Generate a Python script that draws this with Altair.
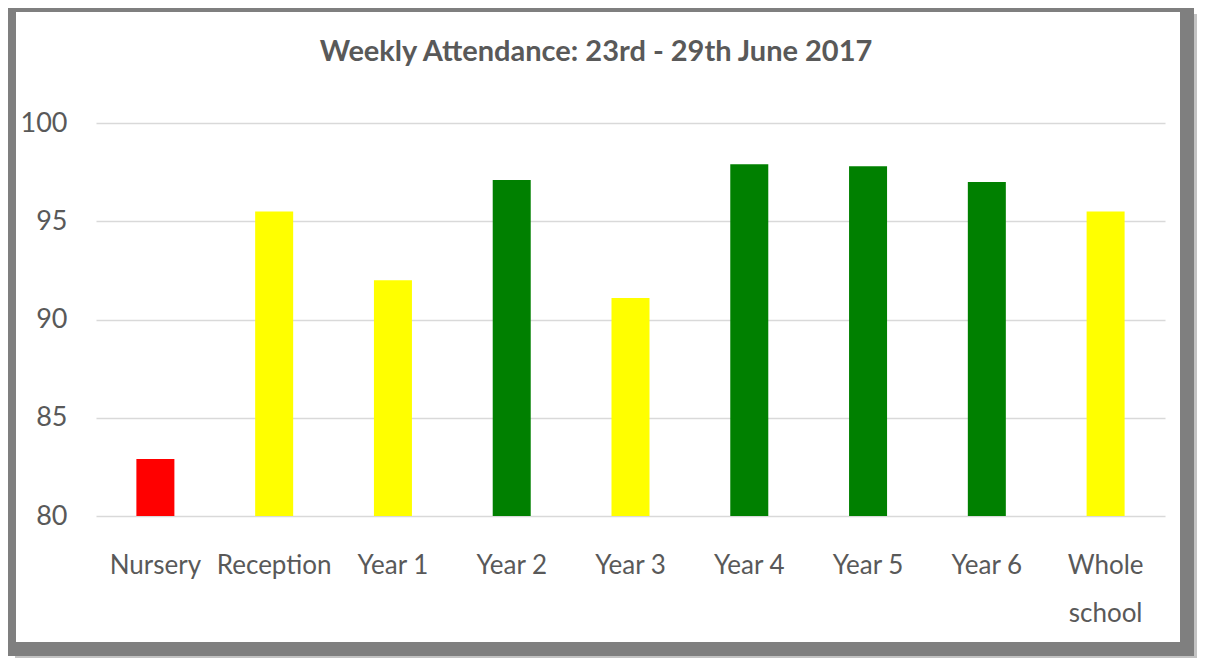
import altair as alt
import pandas as pd

# ---- data ----
categories = ["Nursery", "Reception", "Year 1", "Year 2", "Year 3",
              "Year 4", "Year 5", "Year 6", "Whole school"]
attendance = [82.9, 95.5, 92.0, 97.1, 91.1, 97.9, 97.8, 97.0, 95.5]
bar_colors = ["#ff0000", "#ffff00", "#ffff00", "#008000", "#ffff00",
              "#008000", "#008000", "#008000", "#ffff00"]
y_ticks = [80, 85, 90, 95, 100]
title_text = "Weekly Attendance: 23rd - 29th June 2017"

df = pd.DataFrame({"group": categories, "attendance": attendance, "color": bar_colors})

FONT = "Lato"
TXT = "#595959"

# plot area origin in page coordinates (canvas starts at page 8,8)
OX, OY = 96, 123
W, H = 1069, 393


def strip(x1, x2, y1, y2, color):
    # decorative frame piece, given in page pixels
    return alt.Chart(pd.DataFrame({"k": [0]})).mark_rect(color=color).encode(
        x=alt.value(x1 - OX), x2=alt.value(x2 - OX),
        y=alt.value(y1 - OY), y2=alt.value(y2 - OY))


DARK = "#7f7f7f"
LIGHT = "#c3c3c3"
frame = [
    strip(1194, 1205, 14, 666, LIGHT),    # shadow right
    strip(15, 1205, 656, 666, LIGHT),     # shadow bottom
    strip(0, 1194, 0, 12, DARK),          # top
    strip(0, 16, 0, 656, DARK),           # left
    strip(1180, 1194, 0, 656, DARK),      # right
    strip(0, 1194, 642, 656, DARK),       # bottom
]

bars = alt.Chart(df).mark_bar().encode(
    x=alt.X("group:N", sort=categories,
            scale=alt.Scale(paddingInner=0.68, paddingOuter=0.34),
            axis=alt.Axis(title=None, labelAngle=0, domain=False, ticks=False,
                          labelFont=FONT, labelFontSize=26, labelColor=TXT,
                          labelPadding=36, labelLineHeight=48,
                          labelExpr="datum.label == 'Whole school' ? ['Whole', 'school'] : datum.label")),
    y=alt.Y("attendance:Q",
            scale=alt.Scale(domain=[80, 100], zero=False, nice=False),
            axis=alt.Axis(title=None, values=y_ticks, domain=False, ticks=False,
                          grid=True, gridColor="#d9d9d9", gridWidth=1.5,
                          labelFont=FONT, labelFontSize=27, labelColor=TXT,
                          labelPadding=29)),
    y2=alt.datum(80),
    color=alt.Color("color:N", scale=None),
)

title = alt.Chart(pd.DataFrame({"k": [0]})).mark_text(
    font=FONT, fontSize=29, fontWeight="bold", color=TXT,
    align="center", baseline="middle",
).encode(x=alt.value(596 - OX), y=alt.value(52 - OY), text=alt.value(title_text))

chart = alt.layer(*frame, bars, title).properties(
    width=W, height=H,
    autosize=alt.AutoSizeParams(type="none"),
    padding={"left": OX - 8, "top": OY - 8, "right": 1189 - (OX - 8) - W, "bottom": 650 - (OY - 8) - H},
    background="white",
).configure_view(strokeWidth=0)

chart.save("out.html", embed_options={"renderer": "svg", "actions": False})
